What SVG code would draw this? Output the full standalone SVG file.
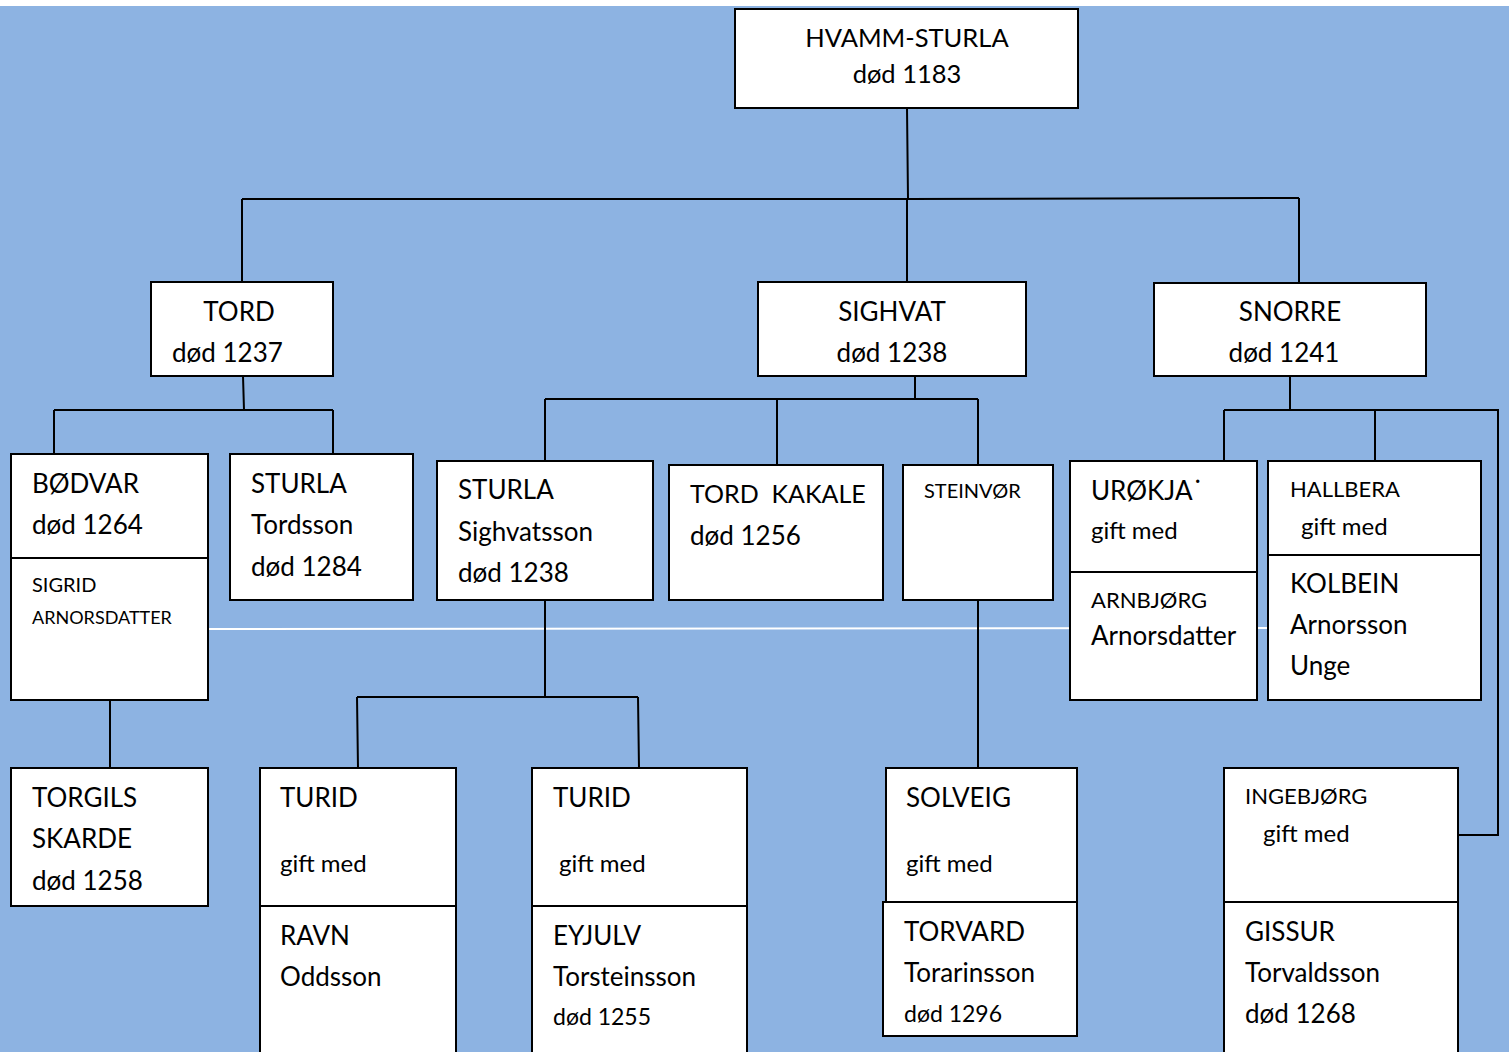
<svg xmlns="http://www.w3.org/2000/svg" width="1509" height="1052" viewBox="0 0 1509 1052">
<style>
.bg{fill:#8DB3E2}
.box{fill:#fff;stroke:#000;stroke-width:2}
.ln{fill:none;stroke:#000;stroke-width:2}
.wl{fill:none;stroke:#fff;stroke-width:2}
text{font-family:Lato,"Liberation Sans",sans-serif;fill:#000;font-size:26px}
text.s{font-size:20px}
text.a{font-size:18px}
text.m{font-size:22px}
text.g{font-size:24px}
text.h{font-size:25.5px}
text.k{font-size:25px}
text.d{font-size:23px}
.c{text-anchor:middle}
</style>
<rect x="0" y="0" width="1509" height="1052" fill="#fff"/>
<rect class="bg" x="0" y="6" width="1509" height="1046"/>
<path class="wl" d="M208 629 L1268 628"/>
<g id="connectors">
<path class="ln" d="M907 108 L908 199 M242 199 L908 199 L1299 198 M242 199 L242 282 M907 199 L907 282 M1299 198 L1299 283"/>
<path class="ln" d="M243 376 L244 410 M54 410 L333 410 M54 410 L54 454 M333 410 L333 454"/>
<path class="ln" d="M915 376 L915 399 M545 399 L978 399 M545 399 L545 461 M777 399 L777 465 M978 399 L978 465"/>
<path class="ln" d="M1290 376 L1290 410 M1224 410 L1498 410 L1498 835 L1458 835 M1224 410 L1224 461 M1375 410 L1375 461"/>
<path class="ln" d="M110 700 L110 768"/>
<path class="ln" d="M545 600 L545 697 M357 697 L638 697 M357 697 L358 768 M638 697 L639 768"/>
<path class="ln" d="M978 600 L978 768"/>
</g>
<g id="hvamm-sturla">
<rect class="box" x="735" y="9" width="343" height="99"/>
<text class="c h" x="907" y="47">HVAMM-STURLA</text>
<text class="c h" x="907" y="83">død 1183</text>
</g>
<g id="tord">
<rect class="box" x="151" y="282" width="182" height="94"/>
<text class="c" x="239" y="321">TORD</text>
<text x="172" y="362">død 1237</text>
</g>
<g id="sighvat">
<rect class="box" x="758" y="282" width="268" height="94"/>
<text class="c" x="892" y="321">SIGHVAT</text>
<text class="c" x="892" y="362">død 1238</text>
</g>
<g id="snorre">
<rect class="box" x="1154" y="283" width="272" height="93"/>
<text class="c" x="1290" y="321">SNORRE</text>
<text class="c" x="1284" y="362">død 1241</text>
</g>
<g id="bodvar">
<rect class="box" x="11" y="454" width="197" height="246"/>
<path class="ln" d="M11 558 L208 558"/>
<text x="32" y="493">BØDVAR</text>
<text x="32" y="534">død 1264</text>
<text class="s" x="32" y="592">SIGRID</text>
<text class="a" x="32" y="624">ARNORSDATTER</text>
</g>
<g id="sturla-tordsson">
<rect class="box" x="230" y="454" width="183" height="146"/>
<text x="251" y="493">STURLA</text>
<text x="251" y="534">Tordsson</text>
<text x="251" y="576">død 1284</text>
</g>
<g id="sturla-sighvatsson">
<rect class="box" x="437" y="461" width="216" height="139"/>
<text x="458" y="499">STURLA</text>
<text x="458" y="541">Sighvatsson</text>
<text x="458" y="582">død 1238</text>
</g>
<g id="tord-kakale">
<rect class="box" x="669" y="465" width="214" height="135"/>
<text class="k" x="690" y="503" xml:space="preserve">TORD  KAKALE</text>
<text x="690" y="545">død 1256</text>
</g>
<g id="steinvor">
<rect class="box" x="903" y="465" width="150" height="135"/>
<text class="s" x="924" y="498">STEINVØR</text>
</g>
<g id="urokja">
<rect class="box" x="1070" y="461" width="187" height="239"/>
<path class="ln" d="M1070 572 L1257 572"/>
<text x="1091" y="500">URØKJA˙</text>
<text class="g" x="1091" y="539">gift med</text>
<text class="m" x="1091" y="608">ARNBJØRG</text>
<text x="1091" y="645">Arnorsdatter</text>
</g>
<g id="hallbera">
<rect class="box" x="1268" y="461" width="213" height="239"/>
<path class="ln" d="M1268 555 L1481 555"/>
<text class="m" x="1290" y="497">HALLBERA</text>
<text class="g" x="1301" y="535">gift med</text>
<text x="1290" y="593">KOLBEIN</text>
<text x="1290" y="634">Arnorsson</text>
<text x="1290" y="675">Unge</text>
</g>
<g id="torgils">
<rect class="box" x="11" y="768" width="197" height="138"/>
<text x="32" y="807">TORGILS</text>
<text x="32" y="848">SKARDE</text>
<text x="32" y="890">død 1258</text>
</g>
<g id="turid-ravn">
<rect class="box" x="260" y="768" width="196" height="290"/>
<path class="ln" d="M260 906 L456 906"/>
<text x="280" y="807">TURID</text>
<text class="g" x="280" y="872">gift med</text>
<text x="280" y="945">RAVN</text>
<text x="280" y="986">Oddsson</text>
</g>
<g id="turid-eyjulv">
<rect class="box" x="532" y="768" width="215" height="290"/>
<path class="ln" d="M532 906 L747 906"/>
<text x="553" y="807">TURID</text>
<text class="g" x="559" y="872">gift med</text>
<text x="553" y="945">EYJULV</text>
<text x="553" y="986">Torsteinsson</text>
<text class="d" x="553" y="1025">død 1255</text>
</g>
<g id="solveig">
<rect class="box" x="886" y="768" width="191" height="134"/>
<text x="906" y="807">SOLVEIG</text>
<text class="g" x="906" y="872">gift med</text>
</g>
<g id="torvard">
<rect class="box" x="883" y="902" width="194" height="134"/>
<text x="904" y="941">TORVARD</text>
<text x="904" y="982">Torarinsson</text>
<text class="d" x="904" y="1022">død 1296</text>
</g>
<g id="ingebjorg">
<rect class="box" x="1224" y="768" width="234" height="290"/>
<path class="ln" d="M1224 902 L1458 902"/>
<text class="m" x="1245" y="804">INGEBJØRG</text>
<text class="g" x="1263" y="842">gift med</text>
<text x="1245" y="941">GISSUR</text>
<text x="1245" y="982">Torvaldsson</text>
<text x="1245" y="1023">død 1268</text>
</g>
</svg>
